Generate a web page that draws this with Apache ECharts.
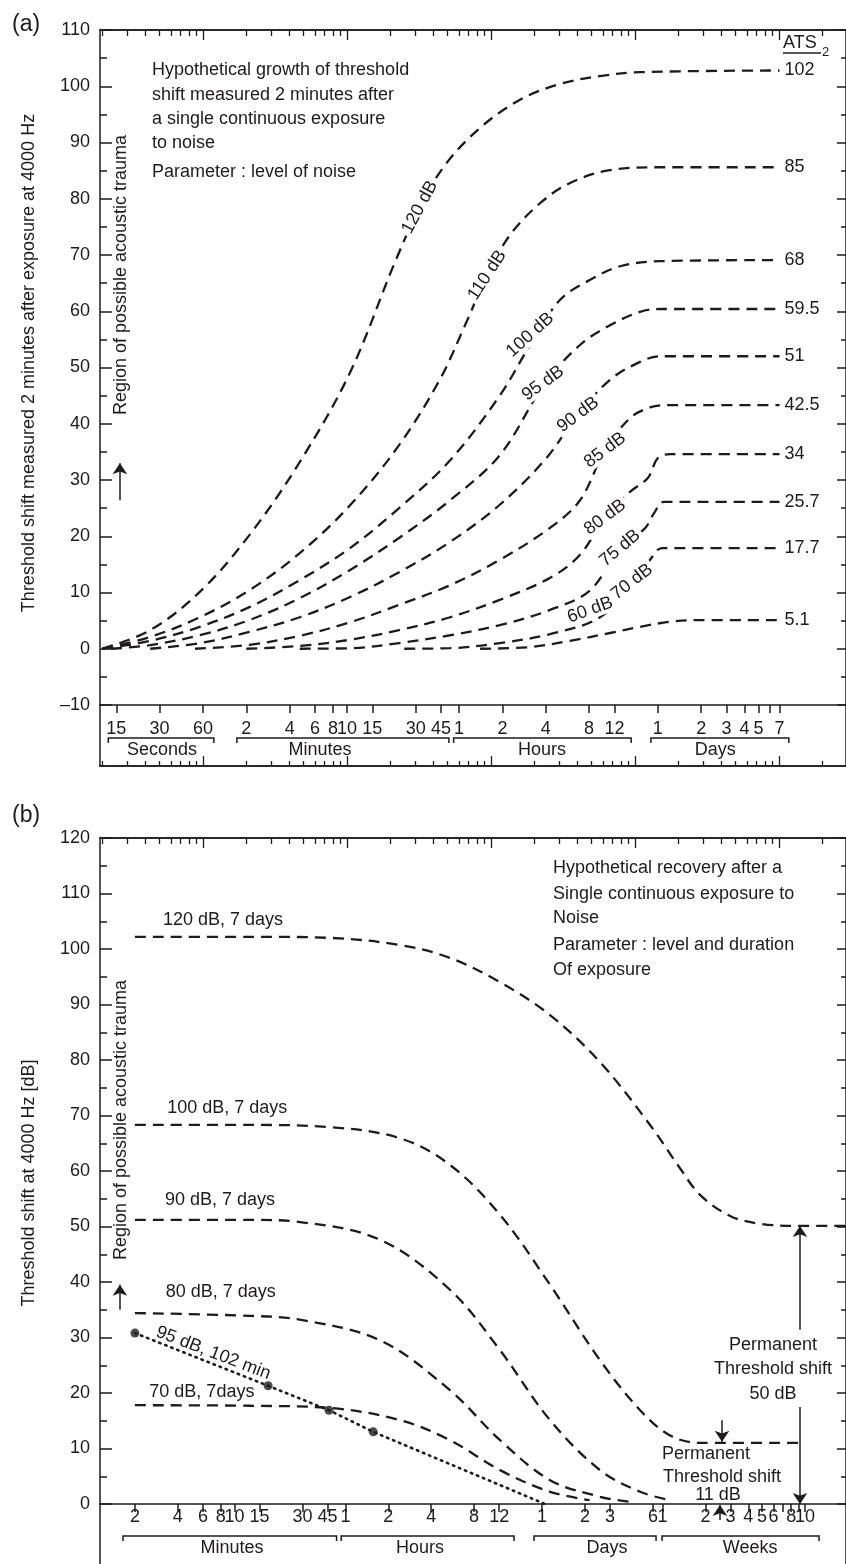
<!DOCTYPE html>
<html>
<head>
<meta charset="utf-8">
<script src="https://cdn.jsdelivr.net/npm/echarts@6.0.0/dist/echarts.min.js"></script>
<style>
html,body{margin:0;padding:0;background:#fff;}
#chart{width:846px;height:1564px;}
</style>
</head>
<body>
<div id="chart"></div>
<script>
// ================= DATA (time in minutes, threshold shift in dB) =================
// ---- Panel (a): growth of threshold shift, parameter = noise level
const growthLevels = ['120 dB','110 dB','100 dB','95 dB','90 dB','85 dB','80 dB','75 dB','70 dB','60 dB'];
const ats2Labels   = ['102','85','68','59.5','51','42.5','34','25.7','17.7','5.1'];
const growth120 = [[0.2,0],[0.43,3.3],[0.95,10.1],[2.1,20.2],[4.7,33.2],[10.5,49.1],[21.5,68.7],[32,78.5],[48,86],[84,92.6],[159,97.6],[300,100.4],[570,101.8],[1080,102.5],[10080,102.8]];
const growth110 = [[0.2,0],[0.43,2.1],[0.95,5.6],[2.1,10.4],[4.7,17],[10.5,25.5],[23,36.2],[44,47.8],[66,57.5],[94,66.4],[135,73.5],[219,79.2],[354,82.8],[670,85.1],[1490,85.6],[10080,85.6]];
const growth100 = [[0.2,0],[0.43,1.4],[0.95,3.9],[2.1,7.4],[4.7,12.2],[10.5,17.9],[23,25],[52,33.5],[115,45],[187,54],[301,62],[488,65.6],[787,68],[1490,68.9],[10080,69.1]];
const growth95  = [[0.23,0],[0.43,0.65],[0.95,2.4],[2.1,5.1],[4.7,9],[10.5,14],[23,19.7],[52,26.4],[115,34.4],[237,47.2],[415,54],[670,57.5],[1084,59.9],[1490,60.4],[10080,60.4]];
const growth90  = [[0.43,0],[0.95,1],[2.1,3],[4.7,5.6],[10.5,9.2],[23,13.6],[52,19],[115,25.6],[237,33.6],[402,41.6],[670,47.8],[1084,51],[1490,52],[10080,52]];
const growth85  = [[0.88,0],[2.1,0.7],[4.7,2.3],[10.5,4.7],[23,7.8],[52,11.3],[115,15.8],[257,21.5],[415,26.4],[619,35.3],[923,41],[1271,42.9],[1620,43.3],[10080,43.3]];
const growth80  = [[2,0],[4.7,0.5],[10.5,1.6],[23,3.3],[52,5.6],[115,8.7],[257,12.6],[415,16.7],[619,23.4],[923,27.9],[1232,30.4],[1440,33.9],[1750,34.6],[10080,34.6]];
const growth75  = [[4.7,0],[10.5,0.1],[23,1],[52,2.4],[115,4.2],[257,6.9],[488,10.4],[787,17.9],[1170,21.4],[1370,24.3],[1580,26.1],[10080,26.1]];
const growth70  = [[25,0],[52,0.1],[115,1],[257,2.6],[571,5.6],[953,11.8],[1271,15.8],[1540,17.9],[10080,17.9]];
const growth60  = [[84,0],[186,0.3],[354,1.4],[670,2.8],[1084,3.9],[1750,4.8],[2825,5.1],[10080,5.1]];
const growthCurves = [growth120,growth110,growth100,growth95,growth90,growth85,growth80,growth75,growth70,growth60];
// label anchors along each curve (time, dB) and their rotation (deg)
const growthLabelAt  = [[32,78.5],[94,66.4],[187,55.8],[230,47.2],[402,41.6],[619,35.3],[619,23.4],[787,17.9],[953,11.9],[488,6.9]];
const growthLabelRot = [62,57,42,36,37,37,37,40,38,20];
const ats2Time = 10080; // 7 days

// ---- Panel (b): recovery after a single continuous exposure
const recoveryNames = ['120 dB, 7 days','100 dB, 7 days','90 dB, 7 days','80 dB, 7 days','70 dB, 7days'];
const rec120 = [[2,102.2],[12.8,102.2],[47,102],[145,100.7],[325,98.4],[730,94],[1637,88.1],[3673,79.6],[8240,68.3],[13370,60.5],[18480,55.7],[30000,51.9],[48700,50.5],[92900,50.1],[195400,50.1]];
const rec100 = [[2,68.3],[12.8,68.3],[47,67.9],[145,65.9],[325,61.1],[730,52.1],[1637,39.5],[3673,25.9],[7020,16.9],[11300,12.4],[18480,11],[92900,11]];
const rec90  = [[2,51.2],[12.8,51.2],[28.8,50.8],[105,47.6],[325,38.6],[730,27.7],[1637,15.1],[3673,6.1],[7020,2.2],[11300,0.7]];
const rec80  = [[2,34.4],[12.8,33.9],[28.8,33.2],[105,29.5],[325,20.5],[730,11.5],[1637,4.3],[3673,1.3],[5900,0.4]];
const rec70  = [[2,17.8],[12.8,17.7],[47,17.3],[145,15.1],[325,11.5],[730,6.1],[1637,2.2],[3100,0.7]];
const recoveryCurves = [rec120,rec100,rec90,rec80,rec70];
const recoveryLabelAt = [[8.3,105.2],[8.9,71.4],[7.9,54.8],[8.0,38.2],[5.9,20.2]];
const rec95Name = '95 dB, 102 min';
const rec95 = [[2,30.8],[17.2,21.3],[46,16.9],[94,13],[1510,0]];
const rec95Measured = [[2,30.8],[17.2,21.3],[46,16.9],[94,13]];
const rec95LabelAt = [7.1,27.2];

// ---- Axis ticks (time in minutes)
const tickTimesA  = [0.25,0.5,1,2,4,6,8,10,15,30,45,60,120,240,480,720,1440,2880,4320,5760,7200,8640,10080];
const tickLabelsA = ['15','30','60','2','4','6','8','10','15','30','45','1','2','4','8','12','1','2','3','4','5','','7'];
const tickTimesB  = [2,4,6,8,10,15,30,45,60,120,240,480,720,1440,2880,4320,8640,10080,20160,30240,40320,50400,60480,70560,80640,90720,100800];
const tickLabelsB = ['2','4','6','8','10','15','30','45','1','2','4','8','12','1','2','3','6','1','2','3','4','5','6','','8','','10'];
const groupsA = [
  {name:'Seconds', from:0.22, to:1.19, labelAt:0.52},
  {name:'Minutes', from:1.72, to:51,   labelAt:6.5},
  {name:'Hours',   from:55,   to:940,  labelAt:226},
  {name:'Days',    from:1290, to:11700,labelAt:3600}
];
const groupsB = [
  {name:'Minutes', from:1.65,  to:52,     labelAt:9.6},
  {name:'Hours',   from:56,    to:915,    labelAt:200},
  {name:'Days',    from:1264,  to:9080,   labelAt:4110},
  {name:'Weeks',   from:10000, to:126500, labelAt:41500}
];

// ================= CHART =================
const L10 = Math.log10;
const INK = '#1f1b1c';
const FONT = '"Liberation Sans", Arial, Helvetica, sans-serif';
// axis extents in log10(minutes)
const A_MIN = -0.715, A_MAX = 4.465;
const B_MIN = 0.056,  B_MAX = 5.291;

function decoTicks(lo, hi, major) {
  const out = [];
  for (let n = -2; n <= 6; n++) {
    for (let k = 1; k <= 9; k++) {
      if (major !== (k === 1)) continue;
      const v = n + L10(k);
      if (v > lo + 1e-6 && v < hi - 1e-6) out.push(v);
    }
  }
  return out;
}
const lineSt = {color: INK, width: 1.5};
const axLine = {show: true, onZero: false, lineStyle: lineSt};
const noLine = {show: false, onZero: false};
const textBase = {color: INK, fontFamily: FONT, fontSize: 18, opacity: 1, textBorderWidth: 0, textShadowBlur: 0};

// labelled time axis; labels whose index is in `skip` are left to a companion axis
function labelledX(gridIndex, min, max, times, labels, margin, onlyIdx, ticksAndLine) {
  const map = new Map(times.map((t, i) => [L10(t).toFixed(6), labels[i]]));
  const useIdx = (i) => labels[i] !== '' && (onlyIdx ? onlyIdx.includes(i) : true);
  return {
    gridIndex, type: 'value', position: 'bottom', min, max,
    axisLine: ticksAndLine ? axLine : noLine,
    axisTick: {show: !!ticksAndLine, inside: false, length: 8, lineStyle: lineSt, customValues: times.map(L10)},
    axisLabel: Object.assign({show: true, margin, hideOverlap: false,
      customValues: times.filter((t, i) => useIdx(i)).map(L10),
      formatter: v => map.get(Number(v).toFixed(6)) || ''}, textBase),
    splitLine: {show: false}
  };
}
function decoX(gridIndex, pos, min, max, major, len) {
  return {
    gridIndex, type: 'value', position: pos, min, max,
    axisLine: axLine,
    axisTick: {show: true, inside: true, length: len, lineStyle: {color: INK, width: 1.3}, customValues: decoTicks(min, max, major)},
    axisLabel: {show: false}, splitLine: {show: false}
  };
}
function mainY(gridIndex, pos, min, max, len, minorLen, labels) {
  return {
    gridIndex, type: 'value', position: pos, min, max, interval: 10,
    axisLine: axLine,
    axisTick: {show: true, inside: true, length: len, lineStyle: lineSt},
    minorTick: {show: true, splitNumber: 2, length: minorLen, lineStyle: lineSt},
    axisLabel: Object.assign({show: labels, margin: 10, showMinLabel: true, showMaxLabel: true,
      formatter: v => v < 0 ? '\u2013' + (-v) : String(v)}, textBase),
    splitLine: {show: false}, minorSplitLine: {show: false}
  };
}
function plainY(gridIndex, pos, showLine) {
  return {gridIndex, type: 'value', position: pos, min: 0, max: 1,
    axisLine: showLine ? axLine : noLine, axisTick: {show: false}, axisLabel: {show: false}, splitLine: {show: false}};
}

const dashed = {type: [11, 7], width: 2.3, color: INK};
const toXY = c => c.map(([t, v]) => [L10(t), v]);

function bracketSeries(xi, yi, groups, offset) {
  return {
    type: 'custom', xAxisIndex: xi, yAxisIndex: yi, silent: true, clip: false, z: 5,
    data: groups.map(g => [L10(g.from), L10(g.to), L10(g.labelAt)]),
    renderItem: (params, api) => {
      const g = groups[params.dataIndex];
      const p1 = api.coord([api.value(0), 1]);
      const p2 = api.coord([api.value(1), 1]);
      const pl = api.coord([api.value(2), 1]);
      const y = p1[1] + offset;
      return {type: 'group', children: [
        {type: 'polyline', shape: {points: [[p1[0], y + 5], [p1[0], y], [p2[0], y], [p2[0], y + 5]]},
         style: {stroke: INK, fill: null, lineWidth: 1.5}},
        {type: 'text', x: pl[0], y: y + 12,
         style: {text: g.name, fill: INK, font: '18px ' + FONT, textAlign: 'center', align: 'center', textVerticalAlign: 'middle', verticalAlign: 'middle'}}
      ]};
    }
  };
}
function labelSeries(xi, yi, anchors, texts, rots, bg) {
  return {
    type: 'scatter', xAxisIndex: xi, yAxisIndex: yi, symbolSize: 0.1, silent: true, z: 8,
    itemStyle: {color: INK},
    emphasis: {disabled: true},
    data: anchors.map(([t, v], i) => ({value: [L10(t), v], label: {rotate: rots ? rots[i] : 0}})),
    label: Object.assign({show: true, position: 'inside', formatter: p => texts[p.dataIndex],
      backgroundColor: bg || 'transparent', padding: bg ? [0, 3] : 0}, textBase)
  };
}
function arrowSeries(xi, yi, list) {
  return {
    type: 'lines', coordinateSystem: 'cartesian2d', xAxisIndex: xi, yAxisIndex: yi, silent: true, clip: false, z: 9,
    symbol: ['none', 'arrow'], symbolSize: 11,
    lineStyle: {color: INK, width: 1.5, opacity: 1, curveness: 0},
    data: list.map(a => ({coords: [[L10(a[0]), a[1]], [L10(a[0]), a[2]]]}))
  };
}

const series = [];
growthCurves.forEach(c => series.push({type: 'line', xAxisIndex: 0, yAxisIndex: 0, data: toXY(c), smooth: 0.35,
  showSymbol: false, symbol: 'none', lineStyle: dashed, silent: true, z: 2}));
series.push(labelSeries(0, 0, growthLabelAt, growthLevels, growthLabelRot, '#fff'));
series.push({type: 'scatter', xAxisIndex: 0, yAxisIndex: 0, symbolSize: 0.1, silent: true, z: 8,
  itemStyle: {color: INK}, emphasis: {disabled: true},
  data: growthCurves.map(c => [L10(ats2Time), c[c.length - 1][1]]),
  label: Object.assign({show: true, position: 'right', distance: 5, formatter: p => ats2Labels[p.dataIndex]}, textBase)});
series.push(arrowSeries(0, 0, [[0.265, 26.4, 33.0]]));
series.push(bracketSeries(3, 2, groupsA, 33));

recoveryCurves.forEach(c => series.push({type: 'line', xAxisIndex: 5, yAxisIndex: 4, data: toXY(c), smooth: 0.35,
  showSymbol: false, symbol: 'none', lineStyle: dashed, silent: true, z: 2}));
series.push({type: 'line', xAxisIndex: 5, yAxisIndex: 4, data: toXY(rec95), smooth: false, showSymbol: false, symbol: 'none',
  lineStyle: {type: [1.5, 5], width: 2.6, color: INK, cap: 'round'}, silent: true, z: 3});
series.push({type: 'scatter', xAxisIndex: 5, yAxisIndex: 4, data: toXY(rec95Measured), symbol: 'circle', symbolSize: 9,
  itemStyle: {color: INK}, silent: true, z: 4});
series.push(labelSeries(5, 4, recoveryLabelAt, recoveryNames, null, null));
series.push(labelSeries(5, 4, [rec95LabelAt], [rec95Name], [-21], null));
series.push(arrowSeries(5, 4, [[1.57, 35, 39.5], [92900, 31.4, 50.1], [92900, 17.5, 0], [26360, 15.1, 11.2], [25500, -2.9, -0.2]]));
series.push(bracketSeries(8, 6, groupsB, 32));

function txt(x, y, text, o) {
  o = o || {};
  const al = o.align || 'left';
  return {type: 'text', x, y, rotation: o.rot || 0, z: 100, silent: true,
    style: {text, fill: INK, font: (o.size || 18) + 'px ' + FONT, textAlign: al, align: al,
      textVerticalAlign: 'middle', verticalAlign: 'middle'}};
}
const graphics = [
  txt(12, 25, '(a)', {size: 23}),
  txt(12, 816, '(b)', {size: 23}),
  txt(29, 363, 'Threshold shift measured 2 minutes after exposure at 4000 Hz', {rot: Math.PI / 2, align: 'center'}),
  txt(29, 1183, 'Threshold shift at 4000 Hz [dB]', {rot: Math.PI / 2, align: 'center'}),
  txt(121, 275, 'Region of possible acoustic trauma', {rot: Math.PI / 2, align: 'center'}),
  txt(121, 1120, 'Region of possible acoustic trauma', {rot: Math.PI / 2, align: 'center'}),
  txt(152, 70, 'Hypothetical growth of threshold'),
  txt(152, 95, 'shift measured 2 minutes after'),
  txt(152, 119, 'a single continuous exposure'),
  txt(152, 143, 'to noise'),
  txt(152, 172, 'Parameter : level of noise'),
  txt(553, 868, 'Hypothetical recovery after a'),
  txt(553, 894, 'Single continuous exposure to'),
  txt(553, 918, 'Noise'),
  txt(553, 945, 'Parameter : level and duration'),
  txt(553, 970, 'Of exposure'),
  txt(783, 43, 'ATS'),
  txt(822, 52, '2', {size: 13}),
  {type: 'line', z: 100, silent: true, shape: {x1: 783, y1: 53, x2: 821, y2: 53}, style: {stroke: INK, lineWidth: 1.3}},
  txt(773, 1345, 'Permanent', {align: 'center'}),
  txt(773, 1369, 'Threshold shift', {align: 'center'}),
  txt(773, 1394, '50 dB', {align: 'center'}),
  txt(662, 1454, 'Permanent'),
  txt(663, 1477, 'Threshold shift'),
  txt(718, 1495, '11 dB', {align: 'center'})
];

const lastB = tickTimesB.length - 1;
const allButLastB = tickTimesB.map((t, i) => i).filter(i => i !== lastB);

const option = {
  animation: false,
  backgroundColor: '#fff',
  textStyle: {fontFamily: FONT, color: INK},
  grid: [
    {left: 100, right: 0, top: 30, height: 675},
    {left: 100, right: 0, top: 705, height: 61},
    {left: 100, right: 0, top: 838, height: 666},
    {left: 100, right: 0, top: 1504, height: 90}
  ],
  xAxis: [
    labelledX(0, A_MIN, A_MAX, tickTimesA, tickLabelsA, 15, null, true),
    decoX(0, 'top', A_MIN, A_MAX, false, 6),
    decoX(0, 'top', A_MIN, A_MAX, true, 10),
    decoX(1, 'bottom', A_MIN, A_MAX, false, 5),
    decoX(1, 'bottom', A_MIN, A_MAX, true, 10),
    labelledX(2, B_MIN, B_MAX, tickTimesB, tickLabelsB, 4, allButLastB, true),
    decoX(2, 'top', A_MIN, A_MAX, false, 6),
    decoX(2, 'top', A_MIN, A_MAX, true, 10),
    {gridIndex: 3, type: 'value', show: false, min: B_MIN, max: B_MAX},
    labelledX(2, B_MIN, B_MAX, tickTimesB, tickLabelsB, 4, [lastB], false)
  ],
  yAxis: [
    mainY(0, 'left', -10, 110, 12, 7, true),
    mainY(0, 'right', -10, 110, 9, 5, false),
    plainY(1, 'left', true),
    plainY(1, 'right', true),
    mainY(2, 'left', 0, 120, 12, 7, true),
    mainY(2, 'right', 0, 120, 9, 5, false),
    plainY(3, 'left', true),
    plainY(3, 'right', true)
  ],
  series,
  graphic: graphics
};
const chart = echarts.init(document.getElementById('chart'), null, {renderer: 'canvas'});
chart.setOption(option);
</script>
</body>
</html>
